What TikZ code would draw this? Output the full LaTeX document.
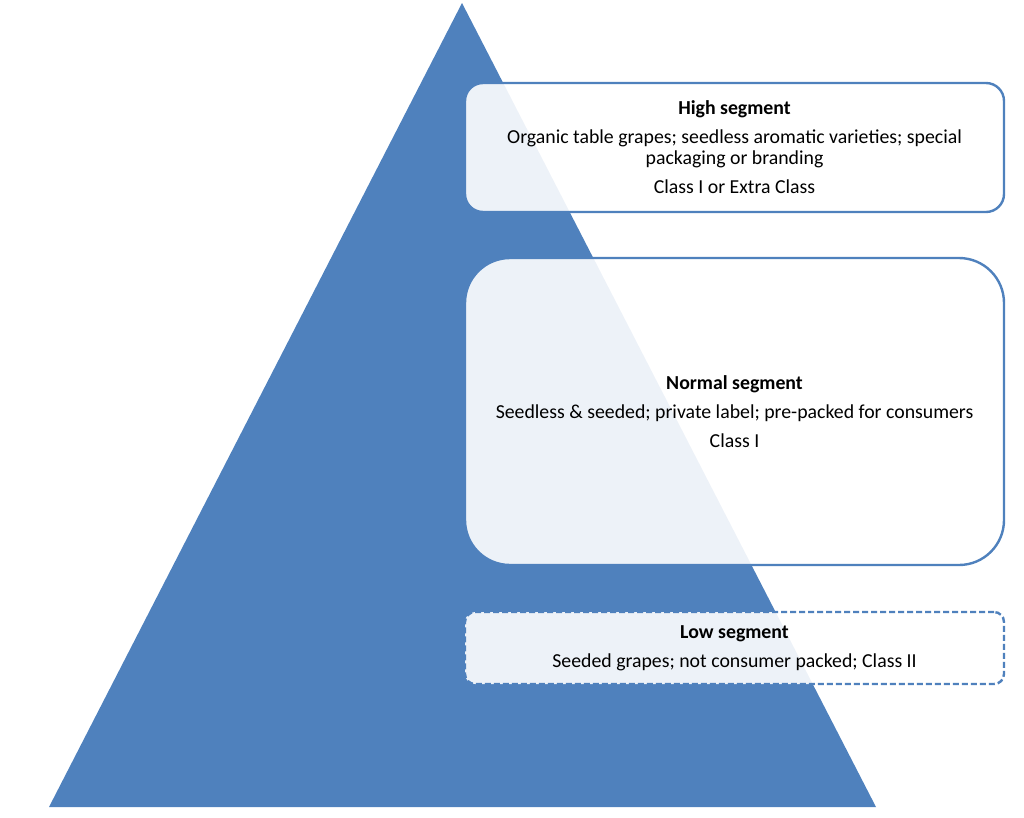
\documentclass[tikz,border=0pt]{standalone}
\usepackage{fontspec}
\setmainfont{Carlito}
\usepackage{tikz}
\usetikzlibrary{positioning,calc}

\definecolor{pyrblue}{HTML}{4F81BD}

\tikzset{
  segbox/.style={draw=pyrblue, line width=2.4pt, fill=white, fill opacity=0.9,
    text opacity=1, align=center, minimum width=539pt, inner sep=0pt,
    font=\fontsize{19.8}{21}\selectfont},
  segtitle/.style={font=\bfseries}
}

\begin{document}
\begin{tikzpicture}[x=1pt,y=-1pt]

\useasboundingbox (0,0) rectangle (1024,817);

% Pyramid
\coordinate (top) at (462,3);
\coordinate (bl) at (49,807);
\coordinate (br) at (876,807);
\fill[pyrblue] (top) -- (bl) -- (br) -- cycle;

% Segment boxes
\node[segbox, rounded corners=18pt, minimum height=129pt] (high) at (734.5,147.5)
  {\textbf{High segment}\\[8pt]
   Organic table grapes; seedless aromatic varieties; special\\
   packaging or branding\\[8pt]
   Class I or Extra Class};

\node[segbox, rounded corners=45pt, minimum height=307pt] (normal) at (734.5,411.5)
  {\textbf{Normal segment}\\[8pt]
   Seedless \& seeded; private label; pre-packed for consumers\\[8pt]
   Class I};

\node[segbox, dashed, dash pattern=on 6pt off 3pt, rounded corners=10pt,
  minimum height=72pt] (low) at (734.5,648)
  {\textbf{Low segment}\\[8pt]
   Seeded grapes; not consumer packed; Class II};

\end{tikzpicture}
\end{document}
